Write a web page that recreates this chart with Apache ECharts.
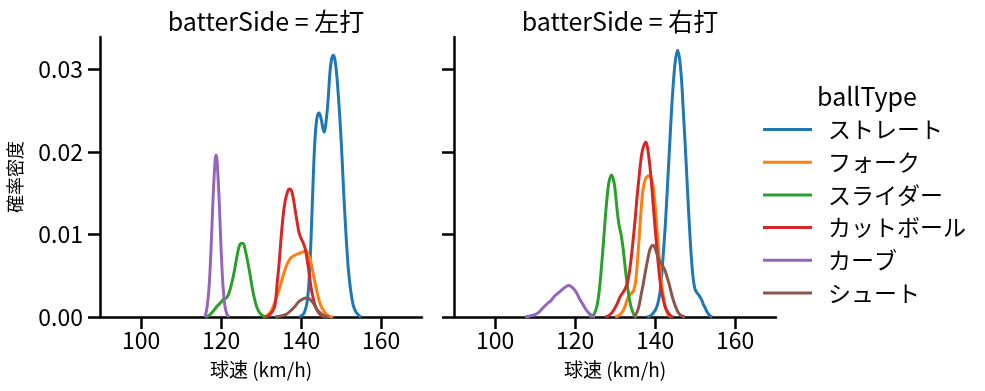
<!DOCTYPE html>
<html>
<head>
<meta charset="utf-8">
<script src="https://cdn.jsdelivr.net/npm/echarts@6/dist/echarts.min.js"></script>
<style>html,body{margin:0;padding:0;background:#fff}#c{width:985px;height:391px}</style>
</head>
<body>
<div id="c"></div>
<script>
// ---- data ----
var ballTypes = ['ストレート', 'フォーク', 'スライダー', 'カットボール', 'カーブ', 'シュート'];
var panelTitles = ['batterSide = 左打', 'batterSide = 右打'];
var xTicks = [100, 120, 140, 160];
var yTicks = [0, 0.01, 0.02, 0.03];

// left panel (左打)
var L_straight = [[139.5,0],[140.5,0.0003],[141,0.0008],[141.5,0.0018],[142,0.0045],[142.5,0.0098],[143,0.0165],[143.5,0.0218],[144,0.0242],[144.5,0.0247],[145,0.0240],[145.5,0.0227],[145.8,0.0224],[146.2,0.0235],[146.7,0.0260],[147.25,0.0299],[147.7,0.0314],[148.1,0.0317],[148.5,0.0310],[148.9,0.0293],[149.3,0.0268],[149.75,0.0235],[150.2,0.0195],[150.6,0.0154],[151,0.0118],[151.4,0.0085],[151.8,0.0058],[152.25,0.0037],[152.7,0.0022],[153.1,0.0013],[153.7,0.0006],[154.4,0.0002],[155,0]];
var L_fork = [[130.5,0],[131.5,0.0002],[132.5,0.0007],[133.5,0.0019],[134.5,0.0033],[135.5,0.0050],[136.5,0.0064],[137.5,0.0072],[138.5,0.0075],[139.5,0.0077],[140.5,0.0079],[141.2,0.0080],[142,0.0073],[142.5,0.0065],[143,0.0053],[143.5,0.0041],[144,0.0030],[144.5,0.0020],[145,0.0013],[146,0.0005],[147,0.0001],[148,0]];
var L_slider = [[116,0],[117,0.0002],[118,0.0007],[119,0.0013],[120,0.0018],[120.5,0.0021],[121,0.0022],[121.5,0.0024],[122,0.0029],[123,0.0048],[124,0.0074],[124.5,0.0085],[125,0.0089],[125.5,0.0089],[126,0.0082],[127,0.0058],[128,0.0030],[129,0.0011],[130,0.0003],[131,0]];
var L_cutter = [[131,0],[132,0.0002],[133,0.0008],[133.5,0.0015],[134,0.0040],[134.5,0.0065],[135,0.0096],[135.5,0.0122],[136,0.0140],[136.5,0.0150],[137,0.0155],[137.5,0.0154],[138,0.0145],[138.5,0.0130],[139,0.0115],[139.5,0.0102],[140,0.0095],[140.5,0.0090],[141,0.0083],[141.5,0.0070],[142,0.0053],[142.5,0.0035],[143,0.0023],[143.5,0.0014],[144,0.0008],[145,0.0002],[146,0]];
var L_curve = [[116,0],[116.5,0.0012],[117,0.0036],[117.5,0.0083],[118,0.0144],[118.5,0.0189],[118.75,0.0196],[119,0.0189],[119.5,0.0144],[120,0.0083],[120.5,0.0036],[121,0.0012],[121.5,0.0003],[122,0]];
var L_shoot = [[133.5,0],[134.5,0.0001],[135.5,0.0002],[136.5,0.0004],[137.5,0.0008],[138.5,0.0013],[139.5,0.0019],[140.5,0.0022],[141.2,0.0023],[142,0.0022],[143,0.0017],[144,0.0009],[145,0.0004],[146,0.0001],[147,0]];

// right panel (右打)
var R_straight = [[138,0],[139,0.0002],[140,0.0008],[140.6,0.0015],[141.2,0.0029],[141.6,0.0048],[142.05,0.0077],[142.5,0.0108],[142.9,0.0142],[143.3,0.0178],[143.7,0.0214],[144.1,0.0250],[144.55,0.0283],[145,0.0308],[145.6,0.0323],[146.1,0.0313],[146.6,0.0287],[147,0.0253],[147.45,0.0214],[147.9,0.0172],[148.3,0.0134],[148.7,0.0099],[149.1,0.0069],[149.5,0.0047],[149.95,0.0034],[150.5,0.0029],[151,0.0026],[151.5,0.0022],[152,0.0016],[152.5,0.0011],[153,0.0006],[153.6,0.0002],[154.3,0]];
var R_fork = [[130,0],[131,0.0002],[131.8,0.0006],[132.5,0.0013],[133,0.0021],[133.5,0.0026],[134.2,0.0029],[134.7,0.0033],[135.1,0.0042],[135.5,0.0062],[136,0.0095],[136.5,0.0130],[137,0.0155],[137.5,0.0166],[138,0.0170],[138.5,0.0171],[139,0.0168],[139.5,0.0158],[140,0.0135],[140.4,0.0110],[140.8,0.0085],[141.2,0.0061],[141.6,0.0041],[142.05,0.0025],[142.5,0.0013],[142.9,0.0007],[143.4,0.0002],[144,0]];
var R_slider = [[123.5,0],[124.5,0.0002],[125,0.0006],[125.5,0.0014],[126,0.0030],[126.5,0.0055],[127,0.0085],[127.5,0.0117],[128,0.0145],[128.5,0.0164],[129.1,0.0172],[129.6,0.0166],[130,0.0154],[130.5,0.0130],[131,0.0111],[131.5,0.0100],[132,0.0083],[132.5,0.0061],[133,0.0040],[133.5,0.0024],[134,0.0012],[134.5,0.0005],[135,0.0001],[135.5,0]];
var R_cutter = [[127.5,0],[128.5,0.0002],[129.5,0.0007],[130.5,0.0016],[131.3,0.0025],[132,0.0030],[132.5,0.0034],[133,0.0040],[133.5,0.0052],[134,0.0070],[134.5,0.0093],[135,0.0118],[135.5,0.0146],[136,0.0170],[136.5,0.0192],[137,0.0205],[137.7,0.0212],[138.2,0.0202],[138.7,0.0182],[139.1,0.0162],[139.55,0.0134],[140,0.0108],[140.4,0.0085],[140.8,0.0063],[141.2,0.0045],[141.6,0.0031],[142.05,0.0021],[142.6,0.0011],[143.3,0.0005],[144,0.0001],[144.6,0]];
var R_curve = [[107.5,0],[108.5,0.0001],[110,0.0003],[111,0.0006],[112,0.0011],[113,0.0016],[114,0.0020],[115,0.0026],[116,0.0030],[117,0.0034],[117.8,0.0037],[118.4,0.0038],[119,0.0037],[119.7,0.0034],[120.4,0.0029],[121,0.0023],[121.5,0.0019],[122,0.0015],[122.6,0.0010],[123.2,0.0006],[123.8,0.0003],[124.5,0.0001],[125,0]];
var R_shoot = [[134.5,0],[135,0.0002],[135.5,0.0006],[136,0.0014],[136.5,0.0027],[137,0.0039],[137.5,0.0053],[138,0.0066],[138.5,0.0078],[139,0.0085],[139.5,0.0087],[140,0.0083],[140.5,0.0076],[141,0.0069],[141.5,0.0065],[142,0.0061],[142.5,0.0056],[143,0.0048],[143.5,0.0040],[144,0.0030],[144.5,0.0021],[145,0.0014],[145.5,0.0008],[146,0.0004],[146.8,0.0001],[147.5,0]];

var leftData = [L_straight, L_fork, L_slider, L_cutter, L_curve, L_shoot];
var rightData = [R_straight, R_fork, R_slider, R_cutter, R_curve, R_shoot];
var colors = ['#1f77b4', '#ff7f0e', '#2ca02c', '#d62728', '#9467bd', '#8c564b'];

// ---- chart ----
var FONT = '"Noto Sans CJK JP", "Noto Sans", sans-serif';
var grids = [
  {left: 100, top: 37, width: 322, height: 280},
  {left: 454, top: 37, width: 322, height: 280}
];
function xAxis(i) {
  return {
    type: 'value', gridIndex: i, min: 89.75, max: 170.2,
    name: '球速 (km/h)', nameLocation: 'middle', nameGap: 43,
    nameTextStyle: {fontFamily: FONT, fontSize: 19, color: '#000'},
    axisLine: {show: true, onZero: false, lineStyle: {color: '#000', width: 2.5}},
    axisTick: {show: true, length: 12, lineStyle: {color: '#000', width: 2.5}, customValues: xTicks},
    axisLabel: {fontFamily: FONT, fontSize: 23, color: '#000', margin: 12, customValues: xTicks},
    splitLine: {show: false}
  };
}
function yAxis(i) {
  return {
    type: 'value', gridIndex: i, min: 0, max: 0.0339,
    name: i === 0 ? '確率密度' : '', nameLocation: 'middle', nameGap: 76,
    nameTextStyle: {fontFamily: FONT, fontSize: 18, color: '#000'},
    axisLine: {show: true, lineStyle: {color: '#000', width: 2.5}},
    axisTick: {show: true, length: 12, lineStyle: {color: '#000', width: 2.5}, customValues: yTicks},
    axisLabel: {show: i === 0, fontFamily: FONT, fontSize: 23, color: '#000', margin: 17,
      customValues: yTicks, formatter: function (v) { return v.toFixed(2); }},
    splitLine: {show: false}
  };
}
var series = [];
[leftData, rightData].forEach(function (panel, p) {
  panel.forEach(function (d, k) {
    series.push({
      type: 'line', name: ballTypes[k], xAxisIndex: p, yAxisIndex: p,
      data: d, showSymbol: false, symbol: 'none', smooth: 0.35,
      lineStyle: {color: colors[k], width: 3}, itemStyle: {color: colors[k]},
      z: 2 + k, animation: false
    });
  });
});

var chart = echarts.init(document.getElementById('c'), null, {renderer: 'canvas'});
chart.setOption({
  animation: false,
  backgroundColor: '#fff',
  color: colors,
  title: [
    {text: panelTitles[0], left: 261, top: 4, textAlign: 'center',
      textStyle: {fontFamily: FONT, fontSize: 25, fontWeight: 'normal', color: '#000'}},
    {text: panelTitles[1], left: 615, top: 4, textAlign: 'center',
      textStyle: {fontFamily: FONT, fontSize: 25, fontWeight: 'normal', color: '#000'}},
    {text: 'ballType', left: 862, top: 79, textAlign: 'center',
      textStyle: {fontFamily: FONT, fontSize: 25, fontWeight: 'normal', color: '#000'}}
  ],
  legend: {
    data: ballTypes, orient: 'vertical', left: 763, top: 117, padding: 0,
    icon: 'rect', itemWidth: 49, itemHeight: 3, itemGap: 7.7,
    textStyle: {fontFamily: FONT, fontSize: 23, color: '#000', lineHeight: 25, padding: [0, 0, 0, 11]},
    selectedMode: false
  },
  grid: grids,
  xAxis: [xAxis(0), xAxis(1)],
  yAxis: [yAxis(0), yAxis(1)],
  series: series
});
</script>
</body>
</html>
